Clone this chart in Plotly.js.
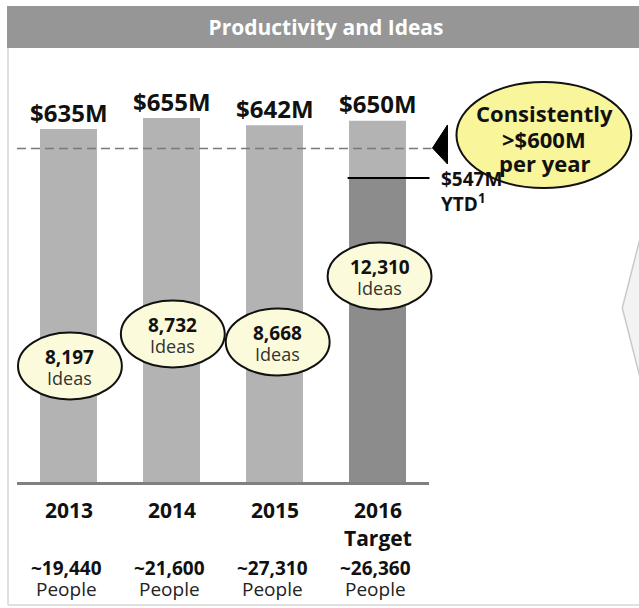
<!DOCTYPE html>
<html><head><meta charset="utf-8">
<script src="https://cdn.plot.ly/plotly-3.0.1.min.js"></script>
<style>html,body{margin:0;padding:0;background:#fff;} #chart{width:639px;height:608px;}</style>
</head><body><div id="chart"></div>
<script>
// ---- data ----
const years = ['2013', '2014', '2015', '2016'];
const yearLabels = ['2013', '2014', '2015', '2016<br>Target'];
const productivity = [635, 655, 642, 650];      // $M per year
const ytd = [null, null, null, 547];             // 2016 YTD $M
const ideas = [8197, 8732, 8668, 12310];
const people = [19440, 21600, 27310, 26360];
const threshold = 600;                           // $M

// ---- layout helpers (pixel -> paper) ----
const W = 639, H = 608;
const L = 17, PW = 412.5, B = 482, PH = 389;
const X = px => (px - L) / PW;
const Y = py => (B - py) / PH;
const FONT = 'Open Sans, DejaVu Sans, sans-serif';
const fmt = n => n.toLocaleString('en-US');

// bubble positions (layout only)
const bubbleCx = [70, 173, 278, 380];
const bubbleCy = [366, 334, 342, 276];
const bubbleW = 104, bubbleH = 67;

const traces = [
  {type: 'bar', x: years, y: productivity, marker: {color: '#b3b3b3'}, hoverinfo: 'skip'},
  {type: 'bar', x: years, y: ytd, marker: {color: '#8c8c8c'}, hoverinfo: 'skip'}
];

const shapes = [
  // title bar
  {type: 'rect', xref: 'paper', yref: 'paper', x0: X(7), x1: X(645), y0: Y(6), y1: Y(48),
   fillcolor: '#969696', line: {width: 0}, layer: 'below'},
  // panel border
  {type: 'line', xref: 'paper', yref: 'paper', x0: X(8), x1: X(8), y0: Y(48), y1: Y(605),
   line: {color: '#d6d6d6', width: 1.5}},
  {type: 'line', xref: 'paper', yref: 'paper', x0: X(8), x1: X(645), y0: Y(605), y1: Y(605),
   line: {color: '#d6d6d6', width: 1.5}},
  // right chevron
  {type: 'path', xref: 'paper', yref: 'paper',
   path: `M ${X(645)},${Y(222)} L ${X(623)},${Y(308)} L ${X(645)},${Y(394)} Z`,
   fillcolor: '#f3f3f3', line: {color: '#c9c9c9', width: 1.5}},
  // threshold dashed line
  {type: 'line', xref: 'paper', yref: 'y', x0: 0, x1: X(432), y0: threshold, y1: threshold,
   line: {color: '#7a7a7a', width: 1.5, dash: '9px,5px'}},
  // YTD marker line
  {type: 'line', xref: 'paper', yref: 'y', x0: X(348), x1: X(430), y0: ytd[3], y1: ytd[3],
   line: {color: '#000', width: 2}},
  // triangle pointer
  {type: 'path', xref: 'paper', yref: 'paper',
   path: `M ${X(433)},${Y(148)} L ${X(448)},${Y(125)} L ${X(448)},${Y(164)} Z`,
   fillcolor: '#000', line: {color: '#000', width: 1}},
  // consistently bubble
  {type: 'circle', xref: 'paper', yref: 'paper', x0: X(457), x1: X(632), y0: Y(188), y1: Y(82),
   fillcolor: '#f9f59a', line: {color: '#111', width: 2}}
];

bubbleCx.forEach((cx, i) => {
  shapes.push({type: 'circle', xref: 'paper', yref: 'paper',
    x0: X(cx - bubbleW / 2), x1: X(cx + bubbleW / 2),
    y0: Y(bubbleCy[i] + bubbleH / 2), y1: Y(bubbleCy[i] - bubbleH / 2),
    fillcolor: '#fbfbdc', line: {color: '#111', width: 2}});
});

const annotations = [];
const ann = o => annotations.push(Object.assign({showarrow: false, xanchor: 'center', yanchor: 'middle'}, o));
years.forEach((yr, i) => {
  // value labels
  ann({x: i, y: productivity[i], xref: 'x', yref: 'y', yshift: 17,
    text: `<b>$${productivity[i]}M</b>`, font: {family: FONT, size: 24, color: '#111'}});
  // ideas
  ann({x: X(bubbleCx[i]), y: Y(bubbleCy[i] - 9), xref: 'paper', yref: 'paper',
    text: `<b>${fmt(ideas[i])}</b>`, font: {family: FONT, size: 19, color: '#111'}});
  ann({x: X(bubbleCx[i]), y: Y(bubbleCy[i] + 12), xref: 'paper', yref: 'paper',
    text: 'Ideas', font: {family: FONT, size: 18, color: '#333'}});
  // year labels
  ann({x: i, y: Y(510), xref: 'x', yref: 'paper',
    text: `<b>${years[i]}</b>`, font: {family: FONT, size: 21, color: '#111'}});
  // people
  ann({x: i, y: Y(568), xref: 'x', yref: 'paper', xshift: -2,
    text: `<b>~${fmt(people[i])}</b>`, font: {family: FONT, size: 19, color: '#111'}});
  ann({x: i, y: Y(589), xref: 'x', yref: 'paper', xshift: -2,
    text: 'People', font: {family: FONT, size: 19, color: '#222'}});
});
// "Target" second line of 2016 label
ann({x: 3, y: Y(538), xref: 'x', yref: 'paper', text: `<b>${yearLabels[3].split('<br>')[1]}</b>`,
  font: {family: FONT, size: 21, color: '#111'}});
// consistently text
[['Consistently', 113], [`&gt;$${threshold}M`, 139], ['per year', 163]].forEach(([t, py]) => {
  ann({x: X(545), y: Y(py), xref: 'paper', yref: 'paper', text: `<b>${t}</b>`,
    font: {family: FONT, size: 22, color: '#111'}});
});
// YTD label
ann({x: X(440), y: ytd[3], xref: 'paper', yref: 'y', xanchor: 'left', yanchor: 'top',
  yshift: 14, align: 'left', text: `<b>$${ytd[3]}M<br>YTD<sup>1</sup></b>`,
  font: {family: FONT, size: 19, color: '#111'}});

const layout = {
  width: W, height: H,
  margin: {l: L, r: W - L - PW, t: B - PH, b: H - B, pad: 0},
  paper_bgcolor: '#fff', plot_bgcolor: '#fff',
  title: {text: '<b>Productivity and Ideas</b>', xref: 'container', yref: 'container',
    x: 326 / W, y: 1 - 28 / H, xanchor: 'center', yanchor: 'middle',
    font: {family: FONT, size: 21, color: '#fff'}},
  barmode: 'overlay', bargap: 0.447,
  showlegend: false,
  xaxis: {type: 'category', categoryarray: years, range: [-0.5, 3.5], showticklabels: false,
    showgrid: false, zeroline: false, ticks: '', showline: true, linecolor: '#808080', linewidth: 3,
    fixedrange: true},
  yaxis: {range: [0, 700], visible: false, showgrid: false, zeroline: false, fixedrange: true},
  shapes, annotations
};

Plotly.newPlot('chart', traces, layout, {displayModeBar: false, staticPlot: true});
</script>
</body></html>
